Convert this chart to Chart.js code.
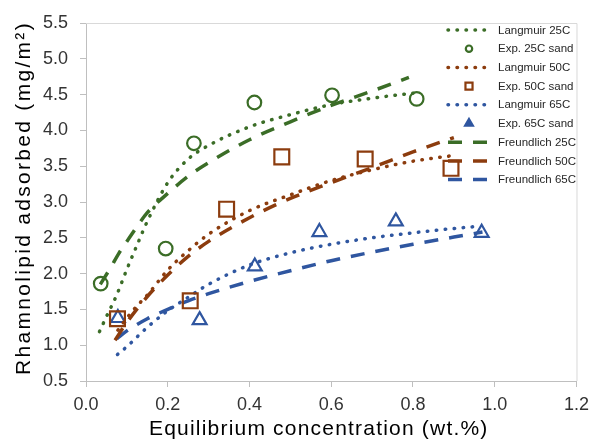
<!DOCTYPE html>
<html>
<head>
<meta charset="utf-8">
<title>Rhamnolipid adsorption isotherms</title>
<script src="https://cdn.jsdelivr.net/npm/chart.js@4.4.1/dist/chart.umd.min.js"></script>
<style>
    html, body { margin: 0; padding: 0; background: #fff; }
    #wrap { width: 596px; height: 443px; }
</style>
</head>
<body>
<div id="wrap"><canvas id="isotherms" width="596" height="443"></canvas></div>
<script>
const exp25X = [0.036, 0.195, 0.264, 0.412, 0.602, 0.809];
const exp25Y = [1.86, 2.35, 3.82, 4.39, 4.49, 4.44];
const exp50X = [0.077, 0.255, 0.344, 0.479, 0.683, 0.893];
const exp50Y = [1.37, 1.62, 2.90, 3.63, 3.60, 3.47];
const exp65X = [0.078, 0.278, 0.413, 0.571, 0.758, 0.968];
const exp65Y = [1.38, 1.35, 2.10, 2.58, 2.73, 2.57];

// Langmuir fits
const lang25X = [0.033, 0.05, 0.075, 0.1, 0.125, 0.15, 0.2, 0.25, 0.3, 0.4, 0.5, 0.6, 0.7, 0.8];
const lang25Y = [1.19, 1.40, 1.70, 2.06, 2.40, 2.73, 3.27, 3.60, 3.79, 4.05, 4.22, 4.36, 4.45, 4.52];
const lang50X = [0.078, 0.1, 0.125, 0.15, 0.2, 0.25, 0.3, 0.4, 0.5, 0.6, 0.7, 0.8, 0.9];
const lang50Y = [1.21, 1.38, 1.55, 1.70, 2.05, 2.32, 2.55, 2.88, 3.10, 3.30, 3.45, 3.57, 3.65];
const lang65X = [0.077, 0.1, 0.15, 0.2, 0.25, 0.3, 0.4, 0.5, 0.6, 0.7, 0.8, 0.9, 0.96];
const lang65Y = [0.87, 0.98, 1.25, 1.48, 1.67, 1.85, 2.12, 2.29, 2.41, 2.50, 2.57, 2.63, 2.66];

// Freundlich fits
const frd25X = [0.035, 0.06, 0.08, 0.1, 0.15, 0.2, 0.25, 0.3, 0.4, 0.5, 0.6, 0.7, 0.79];
const frd25Y = [1.85, 2.08, 2.28, 2.45, 2.85, 3.12, 3.36, 3.55, 3.87, 4.12, 4.35, 4.55, 4.74];
const frd50X = [0.071, 0.1, 0.15, 0.2, 0.25, 0.3, 0.4, 0.5, 0.6, 0.7, 0.8, 0.9];
const frd50Y = [1.07, 1.32, 1.68, 1.98, 2.24, 2.45, 2.78, 3.05, 3.27, 3.48, 3.70, 3.90];
const frd65X = [0.075, 0.1, 0.15, 0.2, 0.25, 0.3, 0.4, 0.5, 0.6, 0.7, 0.8, 0.9, 0.97];
const frd65Y = [1.09, 1.20, 1.37, 1.50, 1.62, 1.72, 1.89, 2.04, 2.18, 2.30, 2.41, 2.51, 2.58];

const seriesLabels = ['Langmuir 25C', 'Exp. 25C sand', 'Langmuir 50C', 'Exp. 50C sand',
    'Langmuir 65C', 'Exp. 65C sand', 'Freundlich 25C', 'Freundlich 50C', 'Freundlich 65C'];

const GREEN = '#3b6d27';
const BROWN = '#8c3c0e';
const BLUE = '#2f56a0';
const FONT = '"Liberation Sans", Arial, sans-serif';

function toPoints(xs, ys) {
    return xs.map((x, i) => ({ x: x, y: ys[i] }));
}

function dotted(label, xs, ys, color) {
    return {
        label: label, data: toPoints(xs, ys), showLine: true,
        borderColor: color, borderWidth: 3.5, borderDash: [0.5, 8.5], borderCapStyle: 'round',
        pointRadius: 0, cubicInterpolationMode: 'monotone', fill: false
    };
}

function dashed(label, xs, ys, color) {
    return {
        label: label, data: toPoints(xs, ys), showLine: true,
        borderColor: color, borderWidth: 3.5, borderDash: [14, 11], borderCapStyle: 'butt',
        pointRadius: 0, cubicInterpolationMode: 'monotone', fill: false
    };
}

function markers(label, xs, ys, color, style, radius) {
    return {
        label: label, data: toPoints(xs, ys), showLine: false,
        pointStyle: style, pointRadius: radius, pointBorderWidth: 2.2,
        borderColor: color, backgroundColor: 'rgba(0,0,0,0)',
        pointBackgroundColor: 'rgba(0,0,0,0)', pointBorderColor: color
    };
}

// Top and right edges of the plot frame
const frame = {
    id: 'frame',
    beforeDatasetsDraw(chart) {
        const { ctx, chartArea: a } = chart;
        ctx.save();
        ctx.strokeStyle = '#d9d9d9';
        ctx.lineWidth = 1;
        ctx.beginPath();
        ctx.moveTo(a.left, a.top + 0.5);
        ctx.lineTo(a.right + 0.5, a.top + 0.5);
        ctx.lineTo(a.right + 0.5, a.bottom);
        ctx.stroke();
        ctx.restore();
    }
};

// Legend drawn (no fill) inside the top-right corner of the plot
const insetLegend = {
    id: 'insetLegend',
    afterDatasetsDraw(chart) {
        const { ctx } = chart;
        ctx.save();
        chart.data.datasets.forEach((ds, i) => {
            const y = 30 + i * 18.7;
            if (ds.showLine) {
                ctx.strokeStyle = ds.borderColor;
                ctx.lineWidth = ds.borderWidth;
                ctx.lineCap = ds.borderCapStyle;
                ctx.setLineDash(ds.borderDash);
                ctx.beginPath();
                ctx.moveTo(448, y);
                ctx.lineTo(491, y);
                ctx.stroke();
                ctx.setLineDash([]);
            } else {
                ctx.strokeStyle = ds.pointBorderColor;
                ctx.fillStyle = ds.pointStyle === 'triangle' ? ds.pointBorderColor : 'rgba(0,0,0,0)';
                ctx.lineWidth = 2.2;
                const r = ds.pointStyle === 'circle' ? 3.2 : (ds.pointStyle === 'rect' ? 5 : 4.5);
                Chart.helpers.drawPoint(ctx, { pointStyle: ds.pointStyle, rotation: 0, radius: r, borderWidth: 2.2 }, 469, y);
            }
            ctx.fillStyle = '#262626';
            ctx.font = '11.5px ' + FONT;
            ctx.textAlign = 'left';
            ctx.textBaseline = 'middle';
            ctx.fillText(ds.label, 498, y + 0.5);
        });
        ctx.restore();
    }
};

// Axis titles (wide spacing like the original rendering)
const axisTitles = {
    id: 'axisTitles',
    afterDraw(chart) {
        const { ctx } = chart;
        ctx.save();
        ctx.fillStyle = '#000000';
        ctx.font = '21px ' + FONT;
        ctx.textBaseline = 'middle';
        ctx.letterSpacing = '1.2px';
        ctx.textAlign = 'left';
        ctx.fillText('Equilibrium concentration (wt.%)', 149, 429);
        ctx.letterSpacing = '2.3px';
        ctx.textAlign = 'center';
        ctx.translate(24, 198);
        ctx.rotate(-Math.PI / 2);
        ctx.fillText('Rhamnolipid adsorbed (mg/m\u00b2)', 0, 0);
        ctx.restore();
    }
};

const canvas = document.getElementById('isotherms');
new Chart(canvas.getContext('2d'), {
    type: 'scatter',
    data: {
        datasets: [
            dotted(seriesLabels[0], lang25X, lang25Y, GREEN),
            markers(seriesLabels[1], exp25X, exp25Y, GREEN, 'circle', 6.8),
            dotted(seriesLabels[2], lang50X, lang50Y, BROWN),
            markers(seriesLabels[3], exp50X, exp50Y, BROWN, 'rect', 10.5),
            dotted(seriesLabels[4], lang65X, lang65Y, BLUE),
            markers(seriesLabels[5], exp65X, exp65Y, BLUE, 'triangle', 8),
            dashed(seriesLabels[6], frd25X, frd25Y, GREEN),
            dashed(seriesLabels[7], frd50X, frd50Y, BROWN),
            dashed(seriesLabels[8], frd65X, frd65Y, BLUE)
        ]
    },
    options: {
        responsive: false,
        animation: false,
        layout: { padding: { top: 23, right: 18, left: 0, bottom: 0 } },
        plugins: {
            legend: { display: false },
            tooltip: { enabled: false }
        },
        scales: {
            x: {
                type: 'linear', min: 0, max: 1.2,
                afterFit: (scale) => { scale.height = 62; },
                border: { color: '#bfbfbf', width: 1 },
                grid: { drawOnChartArea: false, drawTicks: true, tickLength: 6, color: '#bfbfbf' },
                ticks: {
                    stepSize: 0.2, padding: 7, color: '#333333',
                    font: { family: FONT, size: 18 },
                    callback: (v) => v.toFixed(1)
                }
            },
            y: {
                type: 'linear', min: 0.5, max: 5.5,
                afterFit: (scale) => { scale.width = 86; },
                border: { color: '#bfbfbf', width: 1 },
                grid: { drawOnChartArea: false, drawTicks: true, tickLength: 6, color: '#bfbfbf' },
                ticks: {
                    stepSize: 0.5, padding: 12, color: '#333333',
                    font: { family: FONT, size: 18 },
                    callback: (v) => v.toFixed(1)
                }
            }
        }
    },
    plugins: [frame, insetLegend, axisTitles]
});
</script>
</body>
</html>
